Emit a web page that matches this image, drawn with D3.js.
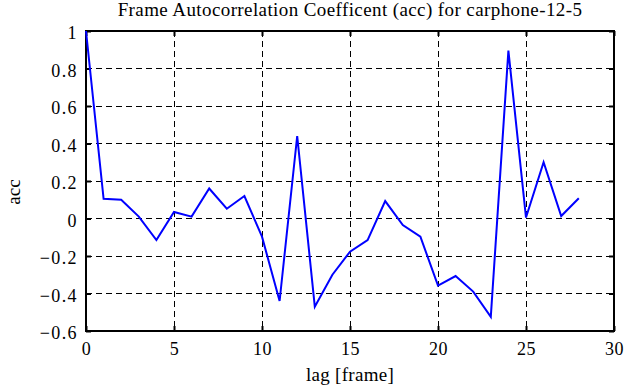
<!DOCTYPE html>
<html><head><meta charset="utf-8">
<script src="https://cdn.jsdelivr.net/npm/d3@7"></script>
<style>body{margin:0;background:#fff}svg{display:block}text{font-family:"Liberation Serif","Times New Roman",serif;fill:#000}</style>
</head><body>
<svg id="c" width="641" height="387"></svg>
<script>
const lags = [0,1,2,3,4,5,6,7,8,9,10,11,12,13,14,15,16,17,18,19,20,21,22,23,24,25,26,27,28];
const accValues = [1.0,0.105,0.10,0.01,-0.115,0.035,0.01,0.16,0.052,0.12,-0.097,-0.44,0.44,-0.47,-0.30,-0.177,-0.115,0.093,-0.035,-0.097,-0.358,-0.307,-0.39,-0.524,0.895,0.005,0.30,0.013,0.108];
const xTicks = [0,5,10,15,20,25,30];
const yTicks = [-0.6,-0.4,-0.2,0,0.2,0.4,0.6,0.8,1];
const title = "Frame Autocorrelation Coefficent (acc) for carphone-12-5";
const xLabel = "lag [frame]";
const yLabel = "acc";

const L=86, R=614, T=31, B=331;
const svg = d3.select("#c");
const x = d3.scaleLinear().domain([0,30]).range([L,R]);
const y = d3.scaleLinear().domain([-0.6,1]).range([B,T]);

// grid
const g = svg.append("g");
g.selectAll("line.gx").data(xTicks.slice(1,-1)).join("line")
  .attr("x1",d=>x(d)).attr("x2",d=>x(d)).attr("y1",T).attr("y2",B)
  .attr("stroke","#000").attr("stroke-width",1).attr("stroke-dasharray","6,4").attr("shape-rendering","crispEdges");
g.selectAll("line.gy").data(yTicks.slice(1,-1)).join("line")
  .attr("y1",d=>y(d)).attr("y2",d=>y(d)).attr("x1",L).attr("x2",R)
  .attr("stroke","#000").attr("stroke-width",1).attr("stroke-dasharray","6,4").attr("shape-rendering","crispEdges");

// axes with inner ticks
const tl = 5;
const ax = svg.append("g").attr("transform",`translate(0,${B})`)
  .call(d3.axisBottom(x).tickValues(xTicks).tickSize(-tl).tickPadding(11).tickFormat(d3.format("d")));
const axT = svg.append("g").attr("transform",`translate(0,${T})`)
  .call(d3.axisTop(x).tickValues(xTicks).tickSize(-tl).tickFormat(""));
const ay = svg.append("g").attr("transform",`translate(${L},0)`)
  .call(d3.axisLeft(y).tickValues(yTicks).tickSize(-tl).tickPadding(8).tickFormat(d=>d===0?"0":(d===1?"1":d3.format(".1f")(d))));
const ayR = svg.append("g").attr("transform",`translate(${R},0)`)
  .call(d3.axisRight(y).tickValues(yTicks).tickSize(-tl).tickFormat(""));
[ax,axT,ay,ayR].forEach(a=>{
  a.select(".domain").remove();
  a.selectAll(".tick line").attr("stroke","#000").attr("stroke-width",2);
  a.selectAll("text").style("font-family",'"Liberation Serif",serif').style("font-size","18px").style("letter-spacing","0.6px").attr("fill","#000");
});
ay.selectAll("text").attr("dy","0.42em").style("letter-spacing","1.4px");
// frame
svg.append("rect").attr("x",L).attr("y",T).attr("width",R-L).attr("height",B-T)
  .attr("fill","none").attr("stroke","#000").attr("stroke-width",2);

// line
svg.append("path").datum(lags.map((l,i)=>[l,accValues[i]]))
  .attr("d",d3.line().x(d=>x(d[0])).y(d=>y(d[1])))
  .attr("fill","none").attr("stroke","#0000ff").attr("stroke-width",2);

svg.append("text").attr("x",(L+R)/2).attr("y",16).attr("text-anchor","middle").style("font-size","19px").style("letter-spacing","0.4px").text(title);
svg.append("text").attr("x",(L+R)/2).attr("y",381).attr("text-anchor","middle").style("font-size","19px").style("letter-spacing","0.3px").text(xLabel);
svg.append("text").attr("transform",`translate(20,192) rotate(-90)`).attr("text-anchor","middle").style("font-size","19px").text(yLabel);
</script>
</body></html>
